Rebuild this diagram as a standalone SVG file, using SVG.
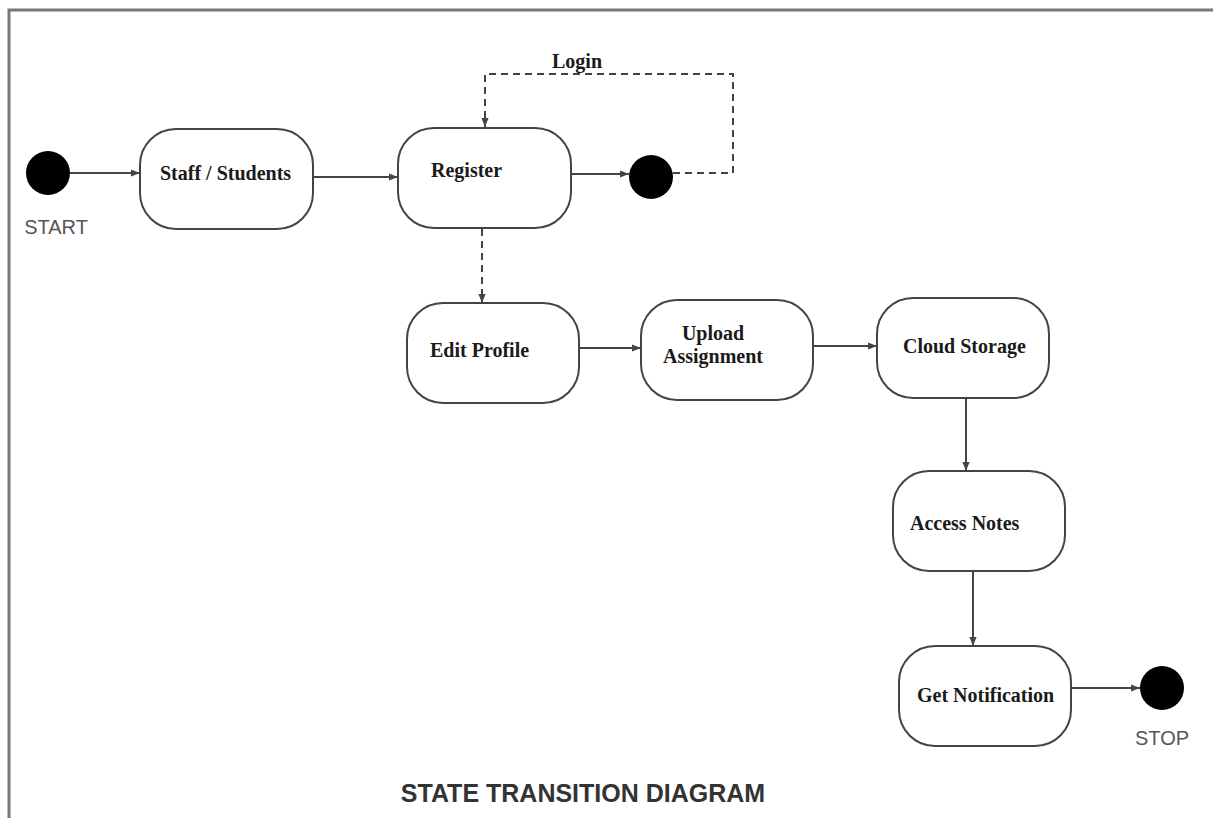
<svg xmlns="http://www.w3.org/2000/svg" width="1213" height="818" viewBox="0 0 1213 818">
<style>
.state{fill:#fff;stroke:#444;stroke-width:2}
.lbl{font-family:"Liberation Serif",serif;font-weight:bold;font-size:20px;fill:#1a1a1a}
.term{fill:#000}
.cap{font-family:"Liberation Sans",sans-serif;font-size:20px;fill:#555}
.edge{fill:none;stroke:#444;stroke-width:2}
.dash{stroke-dasharray:7 5}
</style>
<defs>
<marker id="ah" viewBox="0 0 10 10" refX="10" refY="5" markerWidth="9" markerHeight="9" markerUnits="userSpaceOnUse" orient="auto">
<path d="M0,1 L10,5 L0,9 Z" fill="#444"/>
</marker>
</defs>
<rect width="1213" height="818" fill="#fff"/>
<path d="M9,818 V10 H1213" fill="none" stroke="#777" stroke-width="3"/>

<g id="start">
<circle class="term" cx="48" cy="173" r="22"/>
<text class="cap" x="56" y="234" text-anchor="middle">START</text>
</g>
<g id="staff">
<rect class="state" x="140" y="129" width="173" height="100" rx="36"/>
<text class="lbl" x="160" y="180">Staff / Students</text>
</g>
<g id="register">
<rect class="state" x="398" y="128" width="173" height="100" rx="36"/>
<text class="lbl" x="431" y="177">Register</text>
</g>
<g id="junction">
<circle class="term" cx="651" cy="177" r="22"/>
</g>
<g id="edit">
<rect class="state" x="407" y="303" width="172" height="100" rx="36"/>
<text class="lbl" x="430" y="357">Edit Profile</text>
</g>
<g id="upload">
<rect class="state" x="641" y="300" width="172" height="100" rx="36"/>
<text class="lbl" x="713" y="340" text-anchor="middle">Upload</text>
<text class="lbl" x="713" y="363" text-anchor="middle">Assignment</text>
</g>
<g id="cloud">
<rect class="state" x="877" y="298" width="172" height="100" rx="36"/>
<text class="lbl" x="903" y="353">Cloud Storage</text>
</g>
<g id="access">
<rect class="state" x="893" y="471" width="172" height="100" rx="36"/>
<text class="lbl" x="910" y="530">Access Notes</text>
</g>
<g id="notify">
<rect class="state" x="899" y="646" width="172" height="100" rx="36"/>
<text class="lbl" x="917" y="702">Get Notification</text>
</g>
<g id="stop">
<circle class="term" cx="1162" cy="688" r="22"/>
<text class="cap" x="1162" y="745" text-anchor="middle">STOP</text>
</g>

<g id="connectors">
<line class="edge" x1="70" y1="173" x2="140" y2="173" marker-end="url(#ah)"/>
<line class="edge" x1="313" y1="177" x2="398" y2="177" marker-end="url(#ah)"/>
<line class="edge" x1="571" y1="174" x2="629" y2="174" marker-end="url(#ah)"/>
<path class="edge dash" d="M673,173 H733 V74 H485 V127" marker-end="url(#ah)"/>
<text class="lbl" x="552" y="68">Login</text>
<line class="edge dash" x1="482" y1="229" x2="482" y2="303" marker-end="url(#ah)"/>
<line class="edge" x1="579" y1="348" x2="641" y2="348" marker-end="url(#ah)"/>
<line class="edge" x1="813" y1="346" x2="877" y2="346" marker-end="url(#ah)"/>
<line class="edge" x1="966" y1="398" x2="966" y2="471" marker-end="url(#ah)"/>
<line class="edge" x1="973" y1="571" x2="973" y2="646" marker-end="url(#ah)"/>
<line class="edge" x1="1071" y1="688" x2="1140" y2="688" marker-end="url(#ah)"/>
</g>

<text x="583" y="802" text-anchor="middle" font-family="Liberation Sans, sans-serif" font-weight="bold" font-size="25" fill="#333">STATE TRANSITION DIAGRAM</text>
</svg>
